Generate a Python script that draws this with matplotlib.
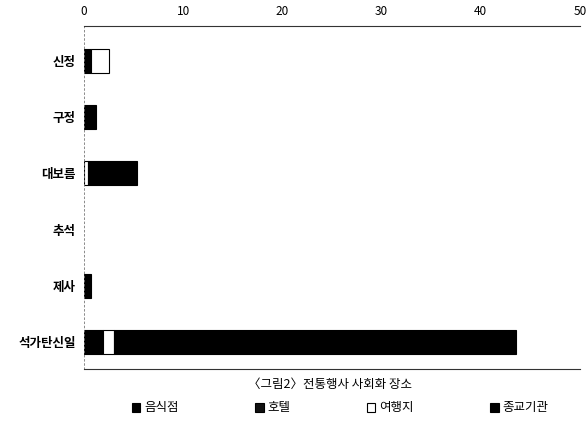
import numpy as np
import matplotlib.pyplot as plt
from matplotlib.patches import Patch

plt.rcParams['font.family'] = ['Noto Sans CJK KR', 'DejaVu Sans']

categories = ['신정', '구정', '대보름', '추석', '제사', '석가탄신일']
series_names = ['음식점', '호텔', '여행지', '종교기관']
restaurant = [0.7, 1.2, 0.0, 0.0, 0.7, 1.9]
hotel = [0.0, 0.0, 0.0, 0.0, 0.0, 0.0]
travel = [1.8, 0.0, 0.4, 0.0, 0.0, 1.1]
religious = [0.0, 0.0, 4.9, 0.0, 0.0, 40.5]
x_ticks = [0, 10, 20, 30, 40, 50]

values = [restaurant, hotel, travel, religious]
faces = ['black', '#111111', 'white', 'black']

fig = plt.figure(figsize=(5.88, 4.30), dpi=100)
ax = fig.add_axes([84 / 588, 1 - 369 / 430, (580 - 84) / 588, (369 - 26) / 430])

y = np.arange(len(categories))
left = np.zeros(len(categories))
for name, vals, fc in zip(series_names, values, faces):
    vals = np.array(vals)
    # no outline for empty segments
    lws = [0.8 if v > 0 else 0 for v in vals]
    ax.barh(y, vals, left=left, height=0.43, color=fc, edgecolor='black',
            linewidth=lws, label=name)
    left += vals

ax.set_xlim(0, 50)
ax.set_ylim(5.48, -0.62)
ax.set_yticks(y)
ax.set_yticklabels(categories, fontsize=9, fontweight='bold')
ax.xaxis.tick_top()
ax.set_xticks(x_ticks)
ax.set_xticklabels([str(t) for t in x_ticks], fontsize=8.5)
ax.tick_params(axis='x', length=0, pad=6)
ax.tick_params(axis='y', length=0, pad=6)
for s in ['top', 'bottom']:
    ax.spines[s].set_color('#333333')
    ax.spines[s].set_linewidth(0.8)
ax.spines['left'].set_color('#777777')
ax.spines['left'].set_linewidth(0.6)
ax.spines['left'].set_linestyle((0, (2, 3)))
ax.spines['right'].set_visible(False)

fig.text(330 / 588, 1 - 384 / 430, '〈그림2〉전통행사 사회화 장소',
         ha='center', va='center', fontsize=9, fontweight='medium')

handles = [Patch(facecolor=fc, edgecolor='black', linewidth=0.8) for fc in faces]
fig.legend(handles, series_names, loc='center', ncol=4,
           bbox_to_anchor=(340 / 588, 1 - 408 / 430), frameon=False,
           prop={'size': 9, 'weight': 'medium'}, handlelength=0.7,
           handleheight=0.7, handletextpad=0.3, columnspacing=6.1)

plt.savefig('out.png', dpi=100)
